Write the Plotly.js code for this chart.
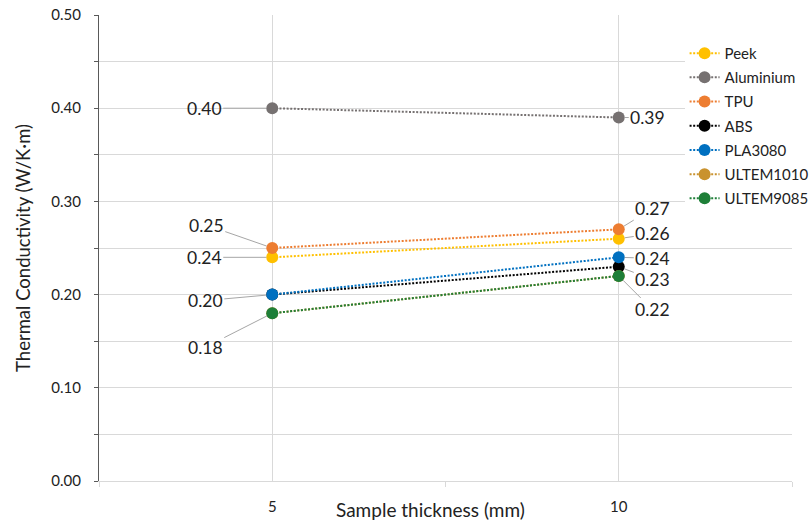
<!DOCTYPE html>
<html>
<head>
<meta charset="utf-8">
<script src="https://cdn.plot.ly/plotly-3.0.1.min.js"></script>
<style>html,body{margin:0;padding:0;background:#fff;}#chart{width:811px;height:520px;}</style>
</head>
<body>
<div id="chart"></div>
<script>
// ---- data ----
const thickness = [5, 10];
const seriesNames = ['Peek', 'Aluminium', 'TPU', 'ABS', 'PLA3080', 'ULTEM1010', 'ULTEM9085'];
const peek      = [0.24, 0.26];
const aluminium = [0.40, 0.39];
const tpu       = [0.25, 0.27];
const abs       = [0.20, 0.23];
const pla3080   = [0.20, 0.24];
const ultem1010 = [0.18, 0.22];
const ultem9085 = [0.18, 0.22];
const xTickVals = [5, 10];
const xTickText = ['5', '10'];

// ---- styles ----
const colors = ['#FFC000', '#767171', '#ED7D31', '#000000', '#0070C0', '#C9922E', '#1E7F38'];
const seriesValues = [peek, aluminium, tpu, abs, pla3080, ultem1010, ultem9085];
// label offsets (px) for each point's data label; null = no label shown
const labelOffsets = [
  [[-68, 0], [34, -5]],
  [[-68, 0], [29, 0]],
  [[-66, -23], [34, -21]],
  [null, [34, 13]],
  [[-67, 6], [34, 1]],
  [null, null],
  [[-67, 34], [34, 34]]
];
const FONT = 'Lato, "Open Sans", sans-serif';
const TXT = '#222222';

const traces = seriesNames.map((name, i) => ({
  type: 'scatter',
  mode: 'lines+markers',
  name: name,
  legendgroup: name,
  x: thickness,
  y: seriesValues[i],
  line: {color: colors[i], width: 2, dash: '2px,1.6px'},
  marker: {color: colors[i], size: 12},
  hoverinfo: 'skip'
}));

const annotations = [];
seriesNames.forEach((name, i) => {
  seriesValues[i].forEach((v, j) => {
    const off = labelOffsets[i][j];
    if (!off) return;
    annotations.push({
      x: thickness[j], y: v, xref: 'x', yref: 'y',
      text: v.toFixed(2),
      showarrow: true, arrowhead: 0, arrowwidth: 1, arrowcolor: '#A6A6A6',
      standoff: 6, ax: off[0], ay: off[1],
      font: {family: FONT, size: 17.5, color: TXT}
    });
  });
});
annotations.push({
  xref: 'paper', yref: 'paper', x: 0.479, y: -0.062, xanchor: 'center', yanchor: 'middle',
  text: 'Sample thickness (mm)', showarrow: false,
  font: {family: FONT, size: 19, color: TXT}
});

const layout = {
  width: 811, height: 520,
  margin: {l: 99, r: 19, t: 15, b: 39, autoexpand: false},
  paper_bgcolor: '#ffffff', plot_bgcolor: '#ffffff',
  font: {family: FONT, color: TXT},
  showlegend: true,
  legend: {
    x: 0.845, y: 0.953, xanchor: 'left', yanchor: 'top',
    bgcolor: '#ffffff', borderwidth: 0, tracegroupgap: 1.7,
    font: {family: FONT, size: 15, color: TXT}
  },
  xaxis: {
    range: [2.5, 12.5],
    tickmode: 'array', tickvals: xTickVals, ticktext: xTickText,
    showgrid: true, gridcolor: '#D9D9D9', gridwidth: 1,
    zeroline: false, showline: true, linecolor: '#D9D9D9', linewidth: 1,
    ticks: '', ticklabelstandoff: 12,
    tickfont: {family: FONT, size: 15, color: TXT},
    minor: {tickmode: 'array', tickvals: [2.5, 7.5, 12.5], ticks: 'outside', ticklen: 5, tickcolor: '#D9D9D9', showgrid: false}
  },
  yaxis: {
    range: [0, 0.5],
    dtick: 0.1, tickformat: '.2f',
    showgrid: true, gridcolor: '#D9D9D9', gridwidth: 1,
    zeroline: false, showline: true, linecolor: '#595959', linewidth: 1,
    ticks: 'outside', ticklen: 4, tickcolor: '#595959',
    ticklabelstandoff: 10,
    tickfont: {family: FONT, size: 15, color: TXT},
    minor: {dtick: 0.05, showgrid: true, gridcolor: '#D9D9D9', ticks: 'outside', ticklen: 4, tickcolor: '#595959'},
    title: {text: 'Thermal Conductivity (W/K·m)', font: {family: FONT, size: 18.5, color: TXT}, standoff: 15}
  },
  annotations: annotations
};

Plotly.newPlot('chart', traces, layout, {displayModeBar: false, staticPlot: true});
</script>
</body>
</html>
